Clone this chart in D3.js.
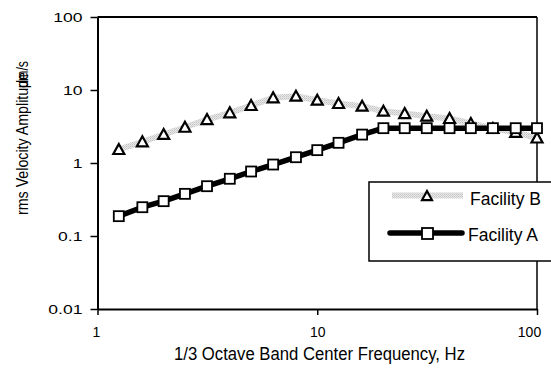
<!DOCTYPE html>
<html>
<head>
<meta charset="utf-8">
<script src="https://cdn.jsdelivr.net/npm/d3@7"></script>
<style>
  html, body { margin: 0; padding: 0; background: #fff; }
  svg { display: block; font-family: "Liberation Sans", Arial, sans-serif; }
</style>
</head>
<body>
<svg id="chart" width="551" height="377"></svg>
<script>
// ---- data ----
const frequencies = [1.25, 1.6, 2, 2.5, 3.15, 4, 5, 6.3, 8, 10, 12.5, 16, 20, 25, 31.5, 40, 50, 63, 80, 100];
const facilityA = [0.187, 0.248, 0.30, 0.378, 0.481, 0.608, 0.765, 0.953, 1.2, 1.5, 1.89, 2.45, 3.0, 3.0, 3.0, 3.0, 3.0, 3.0, 3.0, 3.0];
const facilityB = [1.53, 1.95, 2.46, 3.09, 3.94, 4.87, 6.13, 7.82, 8.22, 7.25, 6.53, 6.0, 5.12, 4.76, 4.38, 4.07, 3.48, 2.97, 2.62, 2.2];
const xTicks = [1, 10, 100];
const xTickLabels = ["1", "10", "100"];
const yTicks = [0.01, 0.1, 1, 10, 100];
const yTickLabels = ["0.01", "0.1", "1", "10", "100"];
const seriesNames = ["Facility B", "Facility A"];
const xTitle = "1/3 Octave Band Center Frequency, Hz";
const yTitleMain = "rms Velocity Amplitude";
const yTitleUnit = "\u03bcm/s";

// ---- layout ----
const L = 97.5, R = 537, T = 17, B = 309;
const svg = d3.select("#chart");
const x = d3.scaleLog().domain([1, 100]).range([L, R]);
const y = d3.scaleLog().domain([0.01, 100]).range([B, T]);

// texture pattern for Facility B line
const defs = svg.append("defs");
const pat = defs.append("pattern").attr("id", "dither")
  .attr("patternUnits", "userSpaceOnUse").attr("width", 2).attr("height", 2);
pat.append("rect").attr("width", 2).attr("height", 2).attr("fill", "#e8e8e8");
pat.append("rect").attr("width", 1).attr("height", 1).attr("fill", "#c4c4c4");
pat.append("rect").attr("x", 1).attr("y", 1).attr("width", 1).attr("height", 1).attr("fill", "#d2d2d2");

// frame
svg.append("line").attr("x1", L).attr("x2", R).attr("y1", T).attr("y2", T)
  .attr("stroke", "#000").attr("stroke-width", 2);
svg.append("line").attr("x1", R).attr("x2", R).attr("y1", T).attr("y2", B)
  .attr("stroke", "#000").attr("stroke-width", 1.5);

// axes
const yAxis = svg.append("g").attr("transform", `translate(${L},0)`)
  .call(d3.axisLeft(y).tickValues(yTicks).tickSize(7).tickSizeOuter(0)
    .tickFormat((d, i) => yTickLabels[i]));
yAxis.select(".domain").attr("stroke-width", 2);
yAxis.selectAll(".tick line").attr("stroke-width", 1.5);
yAxis.selectAll(".tick text")
  .attr("x", null).attr("dy", "0.36em")
  .attr("transform", "translate(-15,0) scale(1.3,1)")
  .attr("font-size", 13.5).attr("fill", "#000")
  .attr("font-family", "Liberation Sans, Arial, sans-serif");

const xAxis = svg.append("g").attr("transform", `translate(0,${B})`)
  .call(d3.axisBottom(x).tickValues(xTicks).tickSize(6).tickSizeOuter(0)
    .tickFormat((d, i) => xTickLabels[i]));
xAxis.select(".domain").attr("stroke-width", 2);
xAxis.selectAll(".tick line").attr("stroke-width", 1.5);
xAxis.selectAll(".tick text")
  .attr("y", 28).attr("dy", 0)
  .attr("dx", (d, i) => [-1.5, 0, -8][i])
  .attr("font-size", 14).attr("fill", "#000")
  .attr("font-family", "Liberation Sans, Arial, sans-serif");

// axis titles
svg.append("text").attr("x", 319.5).attr("y", 360)
  .attr("text-anchor", "middle").attr("font-size", 17.5)
  .attr("textLength", 291).attr("lengthAdjust", "spacingAndGlyphs")
  .text(xTitle);
svg.append("text").attr("transform", "translate(28,215) rotate(-90)")
  .attr("font-size", 17).attr("textLength", 143).attr("lengthAdjust", "spacingAndGlyphs")
  .text(yTitleMain);
svg.append("text").attr("transform", "translate(28,61) rotate(-90)")
  .attr("text-anchor", "end").attr("font-size", 17)
  .attr("textLength", 27).attr("lengthAdjust", "spacingAndGlyphs")
  .text(yTitleUnit);

// series
const line = (vals) => d3.line().x((d, i) => x(frequencies[i])).y(d => y(d))(vals);
const triPath = (s) => `M0,${-s * 0.55}L${s * 0.55},${s * 0.45}L${-s * 0.55},${s * 0.45}Z`;

svg.append("path").attr("d", line(facilityB)).attr("fill", "none")
  .attr("stroke", "url(#dither)").attr("stroke-width", 6).attr("stroke-linejoin", "round");
svg.append("g").selectAll("path").data(facilityB).join("path")
  .attr("transform", (d, i) => `translate(${x(frequencies[i])},${y(d)})`)
  .attr("d", triPath(10)).attr("fill", "#fff").attr("stroke", "#000").attr("stroke-width", 2.2)
  .attr("stroke-linejoin", "miter");

svg.append("path").attr("d", line(facilityA)).attr("fill", "none")
  .attr("stroke", "#000").attr("stroke-width", 5.5).attr("stroke-linejoin", "round");
svg.append("g").selectAll("rect").data(facilityA).join("rect")
  .attr("x", (d, i) => x(frequencies[i]) - 5).attr("y", d => y(d) - 5)
  .attr("width", 10).attr("height", 10)
  .attr("fill", "#fff").attr("stroke", "#000").attr("stroke-width", 1.8);

// legend
const lg = svg.append("g");
lg.append("rect").attr("x", 369).attr("y", 182).attr("width", 200).attr("height", 79)
  .attr("fill", "#fff").attr("stroke", "#000").attr("stroke-width", 1.5);
// Facility B entry
lg.append("line").attr("x1", 392).attr("x2", 463).attr("y1", 195.5).attr("y2", 195.5)
  .attr("stroke", "url(#dither)").attr("stroke-width", 6);
lg.append("path").attr("transform", "translate(427,196)").attr("d", triPath(9))
  .attr("fill", "#fff").attr("stroke", "#000").attr("stroke-width", 2.2);
lg.append("text").attr("x", 470).attr("y", 205).attr("font-size", 17.5).text(seriesNames[0]);
// Facility A entry
lg.append("line").attr("x1", 390).attr("x2", 462).attr("y1", 233).attr("y2", 233)
  .attr("stroke", "#000").attr("stroke-width", 5.5).attr("stroke-linecap", "round");
lg.append("rect").attr("x", 422).attr("y", 228).attr("width", 11).attr("height", 11)
  .attr("fill", "#fff").attr("stroke", "#000").attr("stroke-width", 1.8);
lg.append("text").attr("x", 468).attr("y", 241).attr("font-size", 17.5).text(seriesNames[1]);
</script>
</body>
</html>
